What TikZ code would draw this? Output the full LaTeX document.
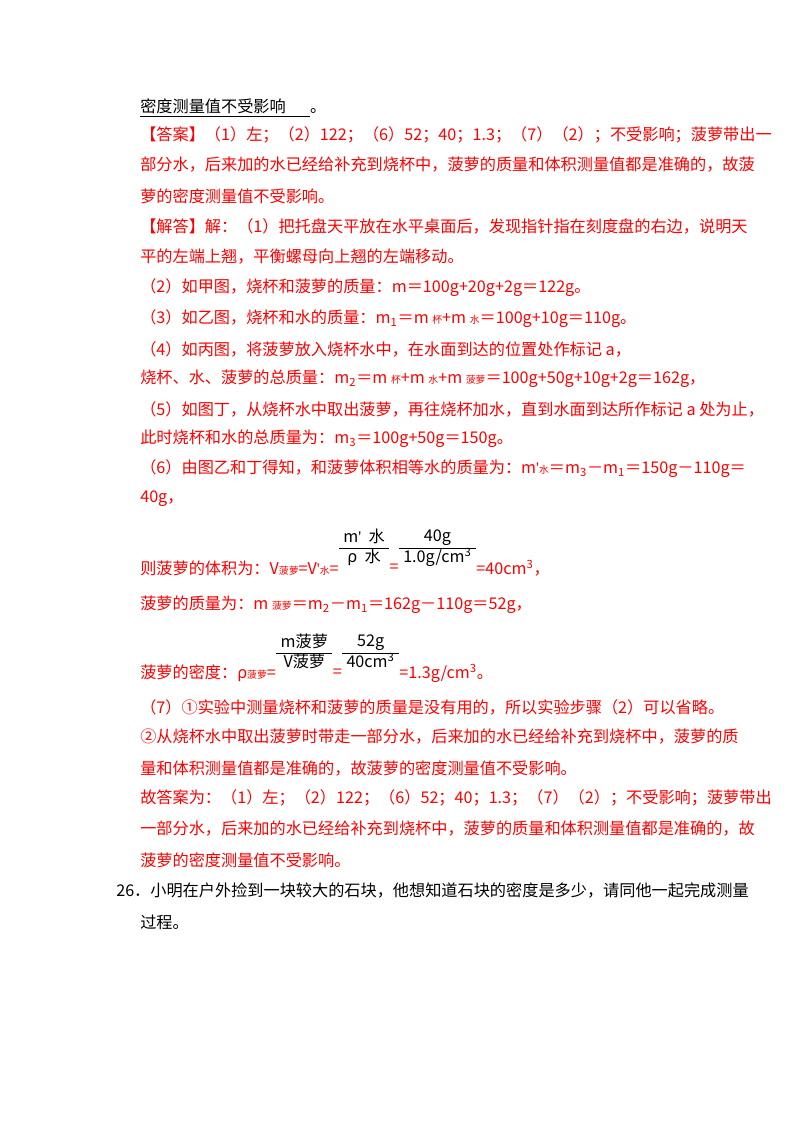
\documentclass[tikz,border=0pt]{standalone}
\usepackage{fontspec}
\setmainfont{Noto Sans CJK SC}
\newfontfamily\lat{Liberation Serif}
\newcommand{\sm}[1]{{\fontsize{7}{8}\selectfont #1}}
\newcommand{\sub}[1]{\textsubscript{#1}}
\newcommand{\fr}[2]{\setlength\tabcolsep{3pt}\renewcommand\arraystretch{1.05}\begin{tabular}{c}#1\\\hline #2\end{tabular}}
\begin{document}
\begin{tikzpicture}[x=0.025cm,y=-0.025cm,
  line/.style={anchor=west,inner sep=0pt,font=\fontsize{11.5}{14}\selectfont},
  ans/.style={line,text=red},
  frac/.style={anchor=west,inner sep=0pt,font=\fontsize{11.5}{13}\selectfont,yshift=14pt}]
  \useasboundingbox (0,0) rectangle (800,1132);

  % head line
  \node[line] (l0) at (140,108) {\underline{密度测量值不受影响\hspace{1.5em}}。};

  % answer
  \node[ans] (l1) at (140,135) {【答案】（1）左；（2）122；（6）52；40；1.3；（7）（2）；不受影响；菠萝带出一};
  \node[ans] (l2) at (140,165) {部分水，后来加的水已经给补充到烧杯中，菠萝的质量和体积测量值都是准确的，故菠};
  \node[ans] (l3) at (140,196) {萝的密度测量值不受影响。};

  % solution
  \node[ans] (l4) at (140,226) {【解答】解：（1）把托盘天平放在水平桌面后，发现指针指在刻度盘的右边，说明天};
  \node[ans] (l5) at (140,257) {平的左端上翘，平衡螺母向上翘的左端移动。};
  \node[ans] (l6) at (140,288) {（2）如甲图，烧杯和菠萝的质量：m＝100g+20g+2g＝122g。};
  \node[ans] (l7) at (140,319) {（3）如乙图，烧杯和水的质量：m\sub{1}＝m \sm{杯}+m \sm{水}＝100g+10g＝110g。};
  \node[ans] (l8) at (140,349) {（4）如丙图，将菠萝放入烧杯水中，在水面到达的位置处作标记 a，};
  \node[ans] (l9) at (140,379) {烧杯、水、菠萝的总质量：m\sub{2}＝m \sm{杯}+m \sm{水}+m \sm{菠萝}＝100g+50g+10g+2g＝162g，};
  \node[ans] (l10) at (140,409) {（5）如图丁，从烧杯水中取出菠萝，再往烧杯加水，直到水面到达所作标记 a 处为止，};
  \node[ans] (l11) at (140,439) {此时烧杯和水的总质量为：m\sub{3}＝100g+50g＝150g。};
  \node[ans] (l12) at (140,469) {（6）由图乙和丁得知，和菠萝体积相等水的质量为：m{\lat '}\sm{水}＝m\sub{3}－m\sub{1}＝150g－110g＝};
  \node[ans] (l13) at (140,499) {40g，};

  % volume
  \node[ans] (l14) at (140,568) {则菠萝的体积为：V\sm{菠萝}=V{\lat '}\sm{水}=};
  \node[frac,text=black] (f1) at (l14.east) {\fr{m{\lat '}\ \ 水}{ρ\ \ 水}};
  \node[ans] (e1) at (f1.east |- l14) {=};
  \node[frac,text=black] (f2) at (e1.east) {\fr{40g}{1.0g/cm\textsuperscript{3}}};
  \node[ans] (r1) at (f2.east |- l14) {=40cm\textsuperscript{3}，};

  % mass
  \node[ans] (l15) at (140,605) {菠萝的质量为：m \sm{菠萝}＝m\sub{2}－m\sub{1}＝162g－110g＝52g，};

  % density
  \node[ans] (l16) at (140,673) {菠萝的密度：ρ\sm{菠萝}=};
  \node[frac,text=black] (f3) at (l16.east) {\fr{m菠萝}{V菠萝}};
  \node[ans] (e2) at (f3.east |- l16) {=};
  \node[frac,text=black] (f4) at (e2.east) {\fr{52g}{40cm\textsuperscript{3}}};
  \node[ans] (r2) at (f4.east |- l16) {=1.3g/cm\textsuperscript{3}。};

  % step 7
  \node[ans] (l17) at (140,707) {（7）①实验中测量烧杯和菠萝的质量是没有用的，所以实验步骤（2）可以省略。};
  \node[ans] (l18) at (140,737) {②从烧杯水中取出菠萝时带走一部分水，后来加的水已经给补充到烧杯中，菠萝的质};
  \node[ans] (l19) at (140,768) {量和体积测量值都是准确的，故菠萝的密度测量值不受影响。};
  \node[ans] (l20) at (140,798) {故答案为：（1）左；（2）122；（6）52；40；1.3；（7）（2）；不受影响；菠萝带出};
  \node[ans] (l21) at (140,829) {一部分水，后来加的水已经给补充到烧杯中，菠萝的质量和体积测量值都是准确的，故};
  \node[ans] (l22) at (140,860) {菠萝的密度测量值不受影响。};

  % question 26
  \node[line] (q1) at (116,890) {26．小明在户外捡到一块较大的石块，他想知道石块的密度是多少，请同他一起完成测量};
  \node[line] (q2) at (140,922) {过程。};
\end{tikzpicture}
\end{document}
